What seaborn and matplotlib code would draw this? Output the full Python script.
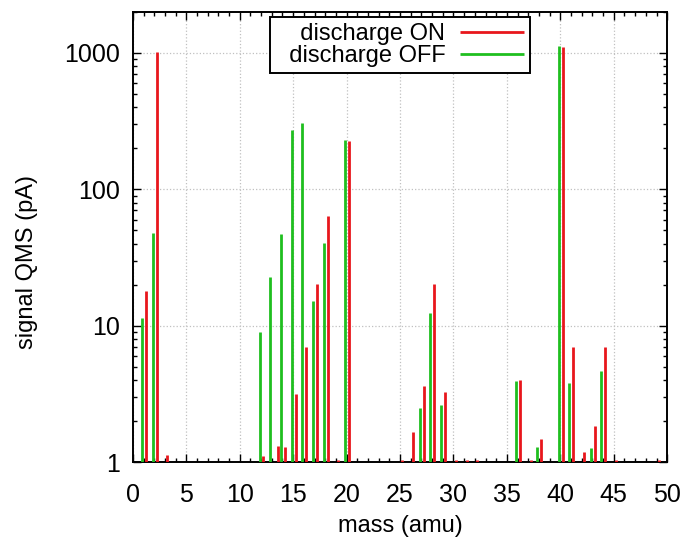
import numpy as np
import pandas as pd
import matplotlib
matplotlib.use("Agg")
import matplotlib.pyplot as plt
import matplotlib.ticker as mticker
import seaborn as sns

# QMS peaks (mass in amu, signal in pA)
off_mass = [1, 2, 12, 13, 14, 15, 16, 17, 18, 20, 27, 28, 29, 36, 38, 40, 41, 43, 44]
off_signal = [11.4, 47.9, 9.0, 22.8, 47.1, 273, 305, 15.1, 40.5, 229,
              2.51, 12.5, 2.61, 3.93, 1.29, 1122, 3.77, 1.27, 4.66]

on_mass = [1, 2, 3, 12, 13.4, 14, 15, 16, 17, 18, 19, 20, 25, 26, 27, 28, 29,
           30, 31, 32, 36, 37, 38, 40, 41, 42, 43, 44, 45, 49]
on_signal = [18.1, 1015, 1.12, 1.11, 1.32, 1.28, 3.15, 6.98, 20.4, 64.1, 1.03, 227,
             1.03, 1.65, 3.6, 20.3, 3.27, 1.03, 1.03, 1.03, 3.98, 1.03, 1.47,
             1110, 6.98, 1.18, 1.84, 6.98, 1.03, 1.03]

df = pd.concat([
    pd.DataFrame({"mass": on_mass, "signal": on_signal, "state": "discharge ON"}),
    pd.DataFrame({"mass": off_mass, "signal": off_signal, "state": "discharge OFF"}),
], ignore_index=True)

sns.set_theme(style="ticks")
plt.rcParams['font.family'] = ['Liberation Sans', 'DejaVu Sans']

colors = {"discharge ON": "#e8161c", "discharge OFF": "#1fbf1f"}
shift = {"discharge ON": 0.22, "discharge OFF": -0.15}

fig, ax = plt.subplots(figsize=(6.85, 5.43), dpi=100)
fig.subplots_adjust(left=0.194, right=0.974, bottom=0.149, top=0.978)

for state in ["discharge ON", "discharge OFF"]:
    sub = df[df["state"] == state]
    ax.vlines(sub["mass"] + shift[state], 1, sub["signal"], color=colors[state],
              lw=2.0, label="  " + state, zorder=3)

ax.set_yscale("log")
ax.set_xlim(0, 50)
ax.set_ylim(1, 2000)
ax.xaxis.set_major_locator(mticker.MultipleLocator(5))
ax.xaxis.set_minor_locator(mticker.MultipleLocator(1))
ax.yaxis.set_major_locator(mticker.LogLocator(base=10))
ax.yaxis.set_minor_locator(mticker.LogLocator(base=10, subs=np.arange(2, 10)))
ax.yaxis.set_major_formatter(mticker.FuncFormatter(lambda v, p: f"{v:g}"))
ax.yaxis.set_minor_formatter(mticker.NullFormatter())

ax.tick_params(which="both", direction="in", top=True, right=True, colors="black",
               labelsize=18, width=1.0)
ax.tick_params(which="major", length=6)
ax.tick_params(which="minor", length=3)
ax.tick_params(axis="x", which="major", pad=15)
ax.tick_params(axis="y", which="major", pad=9)

ax.grid(True, which="major", color="#c0c0c0", linestyle=":", linewidth=0.9)
for s in ax.spines.values():
    s.set_linewidth(1.4)
    s.set_color("black")

ax.set_xlabel("mass (amu)", fontsize=17, color="black")
ax.set_ylabel("signal QMS (pA)", fontsize=17, color="black")
ax.xaxis.set_label_coords(0.5, -0.118)
ax.yaxis.set_label_coords(-0.178, 0.444)

leg = ax.legend(loc="upper center", markerfirst=False, fontsize=17, frameon=True,
                fancybox=False, framealpha=1, edgecolor="black", borderaxespad=0.22,
                handlelength=2.75, handletextpad=0.6, labelspacing=0.0,
                borderpad=0.25)
leg.get_frame().set_linewidth(1.4)
for t in leg.get_texts():
    t.set_color("black")

fig.savefig("out.png", dpi=100)
